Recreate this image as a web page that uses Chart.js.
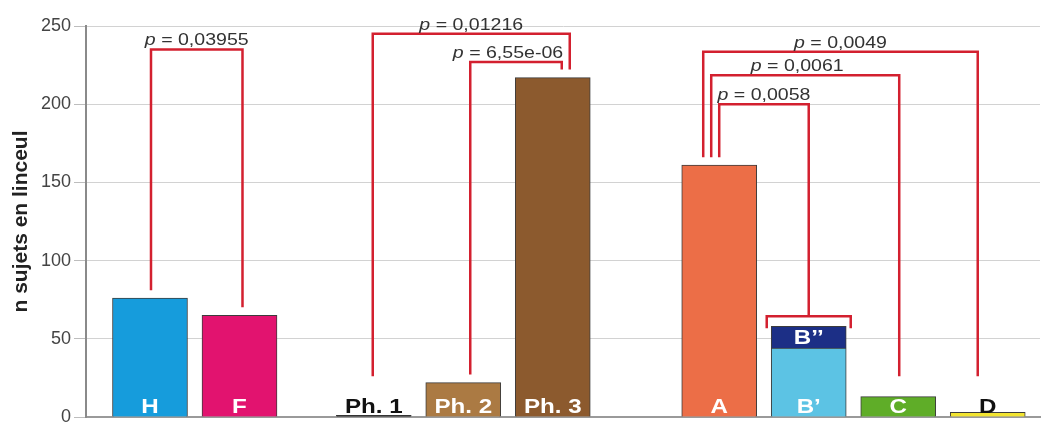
<!DOCTYPE html>
<html>
<head>
<meta charset="utf-8">
<script src="https://cdn.jsdelivr.net/npm/chart.js@4.4.1/dist/chart.umd.min.js"></script>
<style>
  html, body { margin: 0; padding: 0; background: #fff; }
  #wrap { width: 1044px; height: 424px; }
</style>
</head>
<body>
<div id="wrap"><canvas id="chart" width="1044" height="424"></canvas></div>
<script>
// n sujets en linceul, par catégorie
var categories = ['H', 'F', 'Ph. 1', 'Ph. 2', 'Ph. 3', 'A', 'B\u2019', 'C', 'D'];
var groupOf = [0, 0, 1, 1, 1, 2, 2, 2, 2];
var counts = [76, 65, 1, 22, 217, 161, 44, 13, 3];
var upperCounts = [null, null, null, null, null, null, 14, null, null];
var upperLabels = ['', '', '', '', '', '', 'B\u2019\u2019', '', ''];
var yTicks = [0, 50, 100, 150, 200, 250];

// comparaisons (indices dans categories), hauteur du crochet en n
var tests = [
    {from: 0, to: 1, level: 235, p: '0,03955'},
    {from: 2, to: 4, level: 245, p: '0,01216'},
    {from: 3, to: 4, level: 227, p: '6,55e-06'},
    {from: 5, to: 6, level: 200, p: '0,0058'},
    {from: 5, to: 7, level: 218.5, p: '0,0061'},
    {from: 5, to: 8, level: 233.5, p: '0,0049'}
];

var barColors = ['#169cdc', '#e2136f', '#1a1a1a', '#ab7a43', '#8c5a2e', '#ec6e47', '#5cc3e4', '#5fad28', '#f2e431'];
var upperColor = '#1c2f86';
var red = '#d3202f';
var font = '"Liberation Sans", Arial, sans-serif';
var stretch = 1.15;

// layout: extra space between groups, leg shifts of the brackets (px)
var groupShift = [0, 0.5, 1.36];
var legShift = [[1, 3], [-1, 17], [7, 9], [0, 0], [-8, 1], [-16, -10]];
var labelShift = [0, 0, -8, 0, -8, 0];

function xPos(i) { return i + groupShift[groupOf[i]]; }

var lowerData = counts.map(function(v, i){ return {x: xPos(i), y: v}; });
var upperData = [];
upperCounts.forEach(function(v, i){ if (v !== null) upperData.push({x: xPos(i), y: v}); });
var upperBg = [];
upperCounts.forEach(function(v){ if (v !== null) upperBg.push(upperColor); });

function stretchedText(ctx, parts, x, y) {
    ctx.save();
    ctx.translate(x, y);
    ctx.scale(stretch, 1);
    var total = 0;
    parts.forEach(function(p){ ctx.font = p.font; p.w = ctx.measureText(p.text).width; total += p.w; });
    var cx = -total / 2;
    ctx.textAlign = 'left';
    parts.forEach(function(p){ ctx.font = p.font; ctx.fillText(p.text, cx, 0); cx += p.w; });
    ctx.restore();
}

var annotations = {
    id: 'annotations',
    afterDatasetsDraw: function(chart) {
        var ctx = chart.ctx;
        var yScale = chart.scales.y;
        var lower = chart.getDatasetMeta(0).data;
        var upper = chart.getDatasetMeta(1).data;
        var floor = yScale.getPixelForValue(26);

        // top of each category and group brackets over stacked bars
        var tops = lower.map(function(el){ return el.y; });
        var groupLine = {};
        var k = 0;
        upperCounts.forEach(function(v, i){
            if (v === null) return;
            var el = upper[k++];
            tops[i] = el.y;
            var yb = el.y - 10;
            var x1 = el.x - 42, x2 = el.x + 42;
            ctx.save();
            ctx.strokeStyle = red;
            ctx.lineWidth = 2.5;
            ctx.beginPath();
            ctx.moveTo(x1, el.y + 2);
            ctx.lineTo(x1, yb);
            ctx.lineTo(x2, yb);
            ctx.lineTo(x2, el.y + 2);
            ctx.stroke();
            ctx.restore();
            groupLine[i] = yb;
        });

        function legEnd(i) {
            if (groupLine[i] !== undefined) return groupLine[i];
            return Math.min(tops[i] - 8, floor);
        }

        tests.forEach(function(t, n){
            var x1 = lower[t.from].x + legShift[n][0];
            var x2 = lower[t.to].x + legShift[n][1];
            var ly = yScale.getPixelForValue(t.level);
            ctx.save();
            ctx.strokeStyle = red;
            ctx.lineWidth = 2.5;
            ctx.beginPath();
            ctx.moveTo(x1, legEnd(t.from));
            ctx.lineTo(x1, ly);
            ctx.lineTo(x2, ly);
            ctx.lineTo(x2, legEnd(t.to));
            ctx.stroke();
            ctx.fillStyle = '#333';
            ctx.textBaseline = 'alphabetic';
            stretchedText(ctx, [
                {text: 'p', font: 'italic 17px ' + font},
                {text: ' = ' + t.p, font: '17px ' + font}
            ], (x1 + x2) / 2 + labelShift[n], ly - 4);
            ctx.restore();
        });

        // category labels inside the bars
        ctx.save();
        ctx.textBaseline = 'alphabetic';
        lower.forEach(function(el, i){
            ctx.fillStyle = counts[i] < 5 ? '#111' : '#fff';
            stretchedText(ctx, [{text: categories[i], font: 'bold 21px ' + font}], el.x, el.base - 4);
        });
        k = 0;
        upperCounts.forEach(function(v, i){
            if (v === null) return;
            var el = upper[k++];
            ctx.fillStyle = '#fff';
            ctx.textBaseline = 'middle';
            stretchedText(ctx, [{text: upperLabels[i], font: 'bold 21px ' + font}], el.x, (el.y + el.base) / 2 + 1);
        });
        ctx.restore();
    }
};

var ctx = document.getElementById('chart');
var chart = new Chart(ctx, {
    type: 'bar',
    data: {
        datasets: [
            {
                data: lowerData,
                backgroundColor: barColors,
                borderColor: '#3c3c3c',
                borderWidth: 1,
                barThickness: 75
            },
            {
                data: upperData,
                backgroundColor: upperBg,
                borderColor: '#3c3c3c',
                borderWidth: 1,
                barThickness: 75
            }
        ]
    },
    options: {
        responsive: false,
        animation: false,
        layout: { padding: { top: 26, right: 4, bottom: 0, left: 0 } },
        plugins: {
            legend: { display: false },
            tooltip: { enabled: false }
        },
        scales: {
            x: {
                type: 'linear',
                stacked: true,
                offset: false,
                min: -0.715,
                max: 9.944,
                grid: { display: false },
                ticks: { display: false },
                border: { display: true, color: '#9a9a9a', width: 2 },
                afterFit: function(scale){ scale.height = 7; }
            },
            y: {
                stacked: true,
                min: 0,
                max: 250,
                afterBuildTicks: function(scale){
                    scale.ticks = yTicks.map(function(v){ return {value: v}; });
                },
                grid: { color: '#d2d2d2', lineWidth: 1, tickLength: 12, tickColor: '#bdbdbd' },
                border: { color: '#8a8a8a', width: 2 },
                ticks: {
                    padding: 3,
                    color: '#444',
                    font: { family: font, size: 18 }
                },
                title: {
                    display: true,
                    text: 'n sujets en linceul',
                    color: '#222',
                    padding: { top: 9, bottom: 0 },
                    font: { family: font, size: 21, weight: 'bold' }
                },
                afterFit: function(scale){
                    scale.width = 86;
                    scale.paddingBottom = 0;
                }
            }
        }
    },
    plugins: [annotations]
});
</script>
</body>
</html>
